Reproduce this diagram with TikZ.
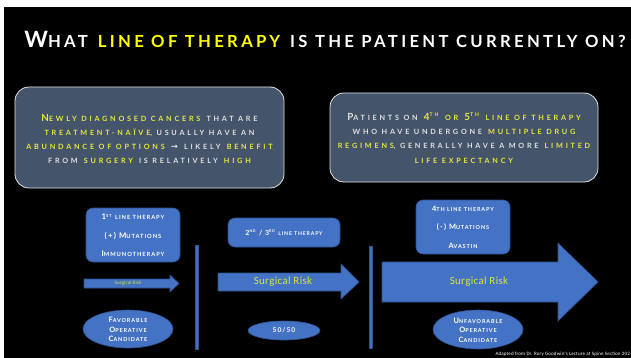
\documentclass[tikz,border=0pt]{standalone}
\usepackage{fontspec}
\setmainfont{Lato}
\newfontfamily\titlefont[LetterSpace=20]{Lato}
\newfontfamily\boxfont[LetterSpace=38]{Lato}
\newfontfamily\smallfont[LetterSpace=16]{Lato}
\newfontfamily\calib[LetterSpace=3]{Carlito}
\newfontfamily\djv{DejaVu Sans}
\usetikzlibrary{shapes.geometric}
\definecolor{slate}{RGB}{68,84,106}
\definecolor{oblue}{RGB}{68,114,196}
\definecolor{oedge}{RGB}{47,82,143}
\definecolor{tyellow}{RGB}{255,255,0}
\definecolor{byellow}{RGB}{232,232,60}
\definecolor{btext}{RGB}{225,225,225}
\definecolor{ryellow}{RGB}{215,230,60}
\makeatletter
\newcommand\fsc[1]{{\fontsize{\fpeval{0.74*\f@size}}{\f@baselineskip}\selectfont\MakeUppercase{#1}}}
\makeatother
\newcommand\yl[1]{\textcolor{byellow}{#1}}
\tikzset{
  infobox/.style={draw=btext, line width=0.8pt, fill=slate, rounded corners=14pt},
  bluebox/.style={draw=oedge, line width=0.6pt, fill=oblue, rounded corners=7pt},
  blueell/.style={draw=oedge, line width=0.6pt, fill=oblue, ellipse, inner sep=0pt},
  arrowshape/.style={draw=oedge, line width=0.6pt, fill=oblue},
  bar/.style={fill=oblue, draw=oedge, line width=0.3pt},
  infotext/.style={text=btext, align=center, font=\boxfont\bfseries\fontsize{9.8}{14.3}\selectfont},
  bluetext/.style={text=white, align=center, font=\smallfont\bfseries\fontsize{7.8}{18.5}\selectfont},
  risk/.style={text=ryellow, font=\calib\fontsize{11}{12}\selectfont}
}
\begin{document}
\begin{tikzpicture}[x=1pt,y=-1pt]
\useasboundingbox (0,0) rectangle (631,358);
\fill[white] (0,0) rectangle (631,358);
\fill[black] (4,7) rectangle (631,358);
% title
\node[text=white, font=\titlefont\bfseries\fontsize{22.5}{24}\selectfont, anchor=base] (title) at (325,48)
  {W\fsc{hat} \textcolor{tyellow}{\fsc{line of therapy}} \fsc{is the patient currently on?}};
% info boxes
\draw[infobox] (15,87) rectangle (284,188);
\node[infotext] (lefttext) at (149.5,139)
  {\yl{N\fsc{ewly diagnosed cancers}} \fsc{that are}\\
   \yl{\fsc{treatment-naïve}}\fsc{, usually have an}\\
   \yl{\fsc{abundance of options}} {\djv\fontsize{8.5}{8}\selectfont→} \fsc{likely} \yl{\fsc{benefit}}\\
   \fsc{from} \yl{\fsc{surgery}} \fsc{is relatively} \yl{\fsc{high}}};
\draw[infobox] (330,93) rectangle (598,182);
\node[infotext] (righttext) at (464,138)
  {P\fsc{atients on} \yl{4\textsuperscript{\fsc{th}} \fsc{or} 5\textsuperscript{\fsc{th}} \fsc{line of therapy}}\\
   \fsc{who have undergone} \yl{\fsc{multiple drug}}\\
   \yl{\fsc{regimens}}\fsc{, generally have a more} \yl{\fsc{limited}}\\
   \yl{\fsc{life expectancy}}};
% blue boxes
\draw[bluebox] (86,208) rectangle (180,262);
\node[bluetext] (b1) at (133,235.5)
  {1\textsuperscript{\fsc{st}} \fsc{line therapy}\\(+) M\fsc{utations}\\I\fsc{mmunotherapy}};
\draw[bluebox] (228,218) rectangle (340,247);
\node[bluetext, font=\smallfont\bfseries\fontsize{7}{7}\selectfont] (b2) at (284,232.5)
  {2\textsuperscript{\fsc{nd}} / 3\textsuperscript{\fsc{rd}} \fsc{line therapy}};
\draw[bluebox] (416,200) rectangle (510,254);
\node[bluetext, font=\smallfont\bfseries\fontsize{7.4}{18.5}\selectfont] (b3) at (463,227)
  {4\fsc{th line therapy}\\(-) M\fsc{utations}\\A\fsc{vastin}};
% arrows
\draw[arrowshape] (84,279) -- (170,279) -- (170,275) -- (179,283.5) -- (170,292) -- (170,288) -- (84,288) -- cycle;
\node[risk, font=\calib\fontsize{5}{6}\selectfont] (r1) at (128,283.5) {Surgical Risk};
\draw[arrowshape] (218,273) -- (341,273) -- (341,264) -- (359,282) -- (341,299) -- (341,291) -- (218,291) -- cycle;
\node[risk] (r2) at (283,282) {Surgical Risk};
\draw[arrowshape] (382,262) -- (558,262) -- (558,243) -- (598,282) -- (558,321) -- (558,302) -- (382,302) -- cycle;
\node[risk] (r3) at (479,282) {Surgical Risk};
% bars
\draw[bar] (195,245) rectangle (198,349);
\draw[bar] (369,246) rectangle (372,348);
% ellipses
\node[blueell, minimum width=90pt, minimum height=38pt] (e1) at (128,329) {};
\node[bluetext, font=\smallfont\bfseries\fontsize{7.4}{9.5}\selectfont] (e1t) at (128,329.5)
  {F\fsc{avorable}\\O\fsc{perative}\\C\fsc{andidate}};
\node[blueell, minimum width=72pt, minimum height=19pt] (e2) at (284,330.5) {};
\node[bluetext, font=\smallfont\bfseries\fontsize{6.6}{7}\selectfont] (e2t) at (284,330.5) {50/50};
\node[blueell, minimum width=90pt, minimum height=39pt] (e3) at (478,329.5) {};
\node[bluetext, font=\smallfont\bfseries\fontsize{7.4}{9.5}\selectfont] (e3t) at (478,330)
  {U\fsc{nfavorable}\\O\fsc{perative}\\C\fsc{andidate}};
% footnote
\node[text=white, font=\calib\fontsize{5}{6}\selectfont, anchor=east, inner sep=1pt] (foot) at (631,354)
  {Adapted from Dr. Rory Goodwin's Lecture at Spine Section 202};
\end{tikzpicture}
\end{document}
